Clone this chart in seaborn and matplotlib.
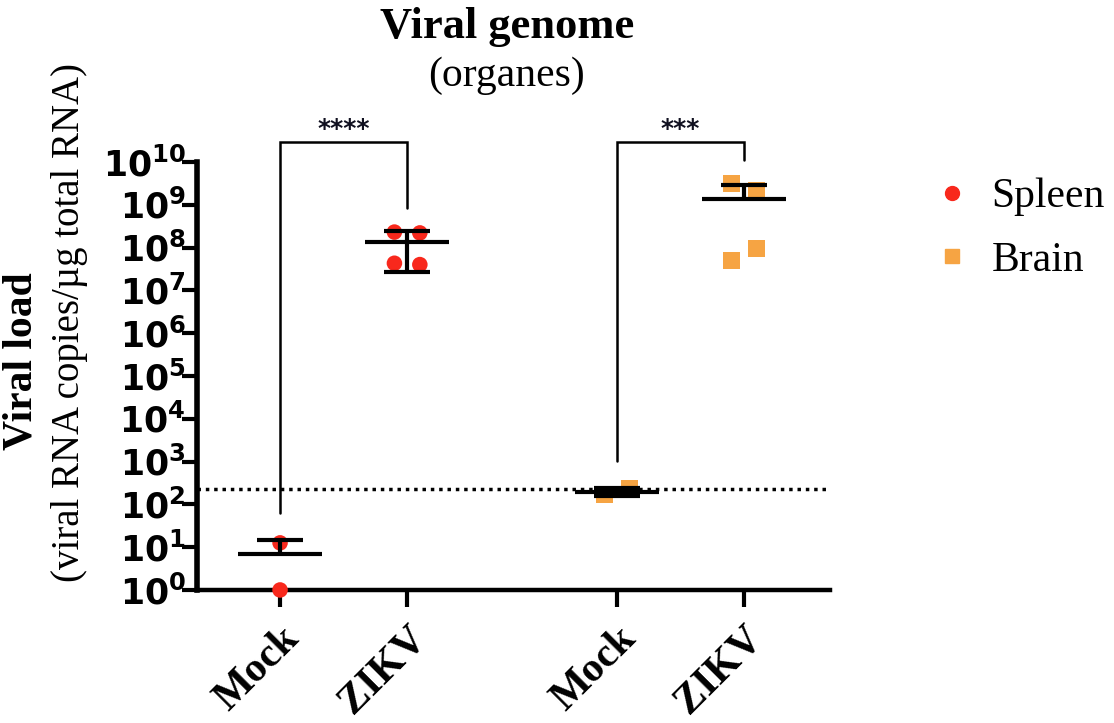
import numpy as np
import pandas as pd
import seaborn as sns
import matplotlib.pyplot as plt
from matplotlib.lines import Line2D

# values (viral RNA copies / ug total RNA)
groups = ['Mock', 'ZIKV', 'Mock', 'ZIKV']
organs = ['Spleen', 'Spleen', 'Brain', 'Brain']
spleen_mock = [12.6, 1.0]
spleen_zikv = [2.3e8, 2.2e8, 4.3e7, 4.0e7]
brain_mock = [166, 229]
brain_zikv = [3.2e9, 2.1e9, 4.9e7, 9.3e7]
detection_limit = 230
stars = ['****', '***']

red = '#F8281C'
orange = '#F6A443'
xpos = [0, 1, 2.65, 3.65]


def spread(vals, step=0.2, tol=0.35):
    # side by side placement for points that would overlap
    logs = np.log10(vals)
    offs = np.zeros(len(vals))
    used = [False] * len(vals)
    for i in range(len(vals)):
        if used[i]:
            continue
        members = [j for j in range(i, len(vals)) if not used[j] and abs(logs[j] - logs[i]) < tol]
        for k, j in enumerate(members):
            offs[j] = (k - (len(members) - 1) / 2) * step
            used[j] = True
    return offs


rows = []
for pos, grp, organ, vals in zip(xpos, groups, organs, [spleen_mock, spleen_zikv, brain_mock, brain_zikv]):
    for v, o in zip(vals, spread(vals)):
        rows.append({'x': pos + o, 'group': grp, 'organ': organ, 'load': v, 'pos': pos})
df = pd.DataFrame(rows)

sns.set_theme(style='ticks', rc={'axes.edgecolor': 'black', 'text.color': 'black',
                                 'xtick.color': 'black', 'ytick.color': 'black',
                                 'axes.labelcolor': 'black'})
plt.rcParams['font.family'] = ['Liberation Serif', 'DejaVu Serif']
plt.rcParams['mathtext.fontset'] = 'custom'
plt.rcParams['mathtext.rm'] = 'DejaVu Sans:bold'
plt.rcParams['mathtext.it'] = 'DejaVu Sans:bold'
plt.rcParams['mathtext.bf'] = 'DejaVu Sans:bold'

fig = plt.figure(figsize=(11.14, 7.23), dpi=100)
ax = fig.add_axes([0.1768, 0.184, 0.5685, 0.592])

sns.scatterplot(data=df[df.organ == 'Spleen'], x='x', y='load', color=red, marker='o',
                s=125, edgecolor='none', ax=ax, clip_on=False, zorder=3, legend=False)
sns.scatterplot(data=df[df.organ == 'Brain'], x='x', y='load', color=orange, marker='s',
                s=150, edgecolor='none', ax=ax, clip_on=False, zorder=3, legend=False)

# mean and SD
stats = df.groupby('pos')['load'].agg(['mean', 'std'])
tops = {}
for pos, r in stats.iterrows():
    m, sd = r['mean'], r['std']
    ax.hlines(m, pos - 0.33, pos + 0.33, color='black', lw=3, zorder=4, clip_on=False)
    ax.vlines(pos, m, m + sd, color='black', lw=3, zorder=4)
    ax.hlines(m + sd, pos - 0.18, pos + 0.18, color='black', lw=3, zorder=4)
    if m - sd > 0:
        ax.vlines(pos, m - sd, m, color='black', lw=3, zorder=4)
        ax.hlines(m - sd, pos - 0.18, pos + 0.18, color='black', lw=3, zorder=4)
    tops[pos] = max(m + sd, df[df.pos == pos]['load'].max())

ax.axhline(detection_limit, color='black', lw=2.5, ls=(0, (1, 1.4)), zorder=2)

# significance brackets
bracket_top = 3e10
for (a, b), s in zip([(xpos[0], xpos[1]), (xpos[2], xpos[3])], stars):
    ax.plot([a, a, b, b], [tops[a] * 10 ** 0.62, bracket_top, bracket_top, tops[b] * 10 ** 0.55],
            color='black', lw=1.8, clip_on=False, solid_joinstyle='miter')
    ax.text((a + b) / 2, bracket_top * 1.05, s, ha='center', va='bottom', fontsize=18,
            fontweight='bold', family='DejaVu Sans', color='#101020')

ax.set_yscale('log')
ax.set_ylim(1, 1e10)
ax.set_xlim(-0.654, 4.33)
ax.set_yticks([10.0 ** k for k in range(11)])
ax.set_yticklabels([r'$10^{%d}$' % k for k in range(11)], fontsize=25)
ax.set_xticks(xpos)
ax.set_xticklabels(groups, rotation=45, ha='right', rotation_mode='anchor',
                   fontsize=30, fontweight='bold')
ax.set_xlabel('')
ax.set_ylabel('')

for side in ['top', 'right']:
    ax.spines[side].set_visible(False)
ax.spines['left'].set_linewidth(4)
ax.spines['bottom'].set_linewidth(3.2)
ax.tick_params(axis='y', which='major', length=11, width=3, pad=-3, color='black')
ax.tick_params(axis='y', which='minor', length=6, width=2, color='black')
ax.tick_params(axis='x', which='major', length=12, width=3, pad=9, color='black')
ax.tick_params(axis='x', which='minor', length=0)

fig.text(0.455, 1 - 27 / 723, 'Viral genome', ha='center', va='center', fontsize=32, fontweight='bold')
fig.text(0.455, 1 - 76 / 723, '(organes)', ha='center', va='center', fontsize=30)
fig.text(22 / 1114, 1 - 361 / 723, 'Viral load', ha='center', va='center', rotation=90,
         fontsize=30, fontweight='bold')
fig.text(70 / 1114, 1 - 322 / 723, '(viral RNA copies/µg total RNA)', ha='center', va='center',
         rotation=90, fontsize=28)

handles = [Line2D([], [], ls='none', marker='o', color=red, markersize=10),
           Line2D([], [], ls='none', marker='s', color=orange, markersize=9.5)]
fig.legend(handles, ['Spleen', 'Brain'], loc='upper left', bbox_to_anchor=(0.802, 0.806),
           frameon=False, fontsize=30, handlelength=1.0, handletextpad=0.45, labelspacing=0.6)

fig.savefig('out.png', dpi=100)
